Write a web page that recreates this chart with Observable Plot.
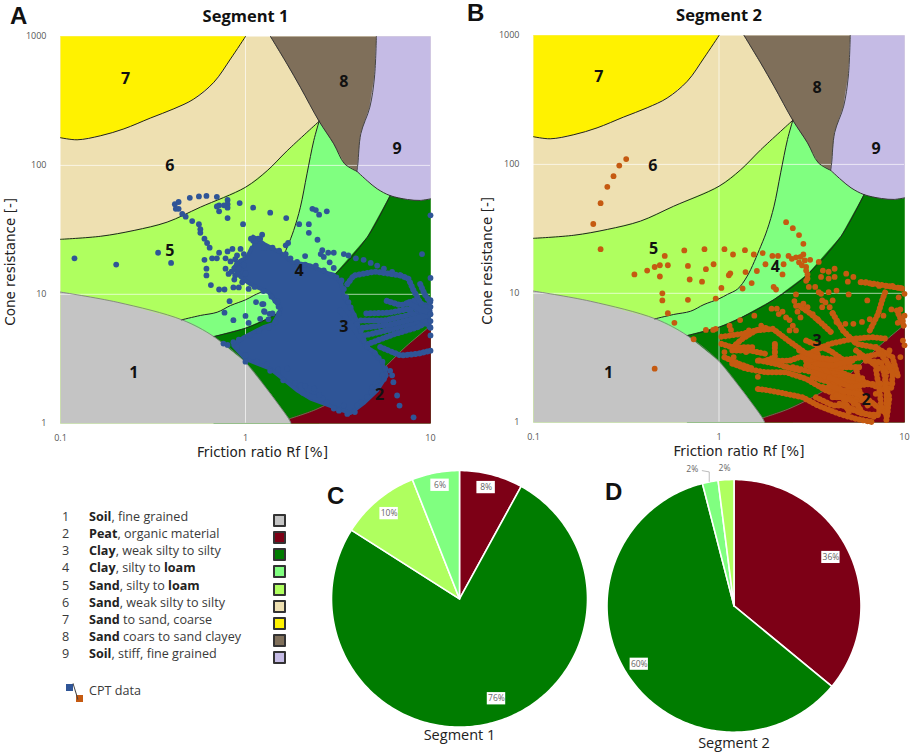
<!DOCTYPE html>
<html><head><meta charset="utf-8">
<script src="https://cdn.jsdelivr.net/npm/d3@7"></script>
<script src="https://cdn.jsdelivr.net/npm/@observablehq/plot@0.6"></script>
<style>
html,body{margin:0;padding:0;background:#fff}
#page{position:relative;width:913px;height:753px;overflow:hidden;font-family:"Open Sans",sans-serif}
.letter{position:absolute;font:bold 24px "Liberation Sans",sans-serif;color:#111;line-height:24px}
.row{position:absolute;font-size:12.6px;color:#3a3a3a;line-height:16px;white-space:nowrap}
.row b{color:#222}
.sw{position:absolute;width:9px;height:9px;border:2px solid #333;border-radius:1px}
</style></head><body><div id="page"></div>
<script>
// ---- zone boundaries, read as [Rf %, cone resistance] ----
const edgeYellow=[[.1,164],[.123,158],[.165,170],[.22,192],[.306,233],[.41,275],[.525,327],[.675,442],[.83,670],[1,1000]];
const edgeBeige=[[.1,26.7],[.165,28.2],[.25,31.3],[.377,36.3],[.57,47.4],[1,67.7],[1.31,91],[1.68,130],[2.5,220]];
const edgeBrownLeft=[[1.365,1000],[1.68,610],[1.98,404],[2.5,220],[3,147],[3.43,103],[4,90]];
const edgeBrownRight=[[5.1,1000],[4.98,485],[4.7,283],[4.2,176],[4.05,103],[4,90]];
const edgeLilac=[[4,90],[4.55,76],[5.15,65.8],[6.05,58.3],[7.5,54.4],[8.8,53.5],[10,55]];
const edgeLime=[[2.5,220],[2.34,156],[2.15,86],[1.98,47.4],[1.82,31.2],[1.68,23.2],[1.42,13.6],[1.26,10.8],[1.11,9.8],[1,9.06],[.83,8.18],[.703,7.26],[.57,6.85],[.45,6.33]];
const edgeLight=[[.674,4.7],[1,5.46],[1.31,6.45],[1.98,8.95],[3,14],[4.55,27.7],[6.05,58.3]];
const edgeGrey=[[.1,10.4],[.2025,8.68],[.4546,6.33],[.674,4.7],[1,2.97],[1.365,1.69],[1.715,1.08],[1.76,1]];
const edgePeat=[[1.72,1.08],[2.38,1.27],[3.4,1.64],[5.15,2.41],[7.3,3.89],[10,5.7]];

const zoneColors={1:"#c4c4c4",2:"#7d0016",3:"#007c00",4:"#80ff80",5:"#afff5f",6:"#eee0b1",7:"#fff200",8:"#7f6f5a",9:"#c5bbe5"};
const labelsA=[[1,.249,2.46],[2,5.3,1.66],[3,3.4,5.55],[4,1.95,15.3],[5,.39,21.9],[6,.39,100],[7,.225,469],[8,3.4,442],[9,6.6,134]];
const labelsB=[[1,.254,2.4],[2,6.2,1.5],[3,3.38,4.3],[4,2.01,16],[5,.444,22],[6,.44,98],[7,.225,481],[8,3.38,393],[9,7.03,132]];

// ---- Segment 1 CPT readings ----
const seg1Dots=[[.119,19],[.2,17],[.337,21],[.396,17.5],[.415,50],[.435,52],[.42,46],[.435,46],[.455,42],[.475,40],[.515,37],[.56,35],[.57,32],[.57,30],[.6,27],[.62,25],[.64,23],[.5,56],[.56,57.5],[.615,58],[.7,57],[.8,54],[.8,50],[.8,47],[.765,49],[.72,49],[.7,48],[.72,44],[.8,39],[.93,51],[1.1,47],[1.36,43],[1.66,39],[.97,35],[1.23,29],[1.1,26],[1.17,27],[1.95,35],[2.2,35],[2.2,30],[2.45,26.5],[2.3,46],[2.4,45],[2.5,41.5],[2.75,44],[1.65,24],[1.7,25],[2.6,22],[2.55,20.5],[2.65,19.5],[3,21],[3.4,20.5],[2.8,21],[2.85,17.7],[3,16],[2.1,19.8],
[3.6,20],[3.95,19],[4.35,18.5],[4.75,17.5],[5.15,16.7],[5.6,15.8],[6.2,14.9],[9,20.5],[10,13.4],[10,41],[10,9],[10,8],[10,7],[10,6.2],[10,5.5],[10,4.8],[10,3.65],
[5.5,2.35],[6.05,2.55],[6.2,2.35],[6.3,2.08],[6.6,1.64],[6.8,1.37],[8.1,1.11],[4.85,1.9],[5.05,2],[3,1.3],[3.2,1.25],[3.55,1.18],[3.9,1.22],[3.4,1.37],
[.82,8.85],[.77,7.2],[.86,6.3],[1,6.8],[1.04,6],[1.14,8.7],[1.23,8.4],[1.26,7.4],[1.2,6.45],[1.35,7.05],[1.51,8],[1.45,8.9],[1.27,7.3],[1.33,6.4],[1.4,7.1],[1.25,8.4],
[1,3],[1.36,2.55],[1.6,2.15],[.8,4.05],[.76,4.15],
[.85,22.5],[.94,22.5],[.98,20.5],[.78,15.8],[.81,14.4],[.88,14],[.96,12.4],[1.04,11],[.6,18.5],[.66,19],[.72,21],[.7,19],[.78,19],[.615,15.8],[.615,14],[.65,11.8],[.72,10.9],[.77,10.9],[.86,11.3],[.92,11.3],[.83,18],[.88,18.7],[.9,17.2],[.98,16.8],[.8,21.5],[.9,20],[.84,15],[.87,13],[.92,15.8],[1,14.5],
[1.13,26],[1.2,27],[1.07,27],[1.26,23],[1.4,23],[1.52,21.8],[1.65,20.5],[1.75,19],[1.9,17.8],[2.1,17],[2.4,16.7],[2.65,15.3],[2.9,14],[3.1,13.5],[3.3,12.8],[3.4,11],[3.5,9.5],[3.6,8.7],[3.7,7.9],[3.85,6.9],[4,5.9],[4.2,5.2],[4.35,4.4],[4.55,3.9],[5,3.5],[5.25,3.2],[5.5,3],[5.7,2.65],[5.6,2.2],[5.15,1.9],[4.8,1.75],[4.55,1.6],[4.2,1.45],[4,1.37],[2.75,1.45],[2.5,1.65],[2.35,1.85],[2.1,1.95],[1.85,2.05],[1.68,2.65],[1.5,2.6],[1.3,2.85],[1.15,3],[1,3.35],[.9,3.9],[.86,4.25],[.92,4.45],[1.06,4.8],[1.18,5.2],[1.34,5.55],[1.45,6.1],[1.52,7.1],[1.5,8.8],[1.38,9.6],[1.25,10.6],[1.12,11.4]];
const seg1Core=[[1.1,28],[1.26,24.6],[1.55,21],[1.8,17.7],[2.25,16.7],[2.82,14.5],[3,14.2],[3.3,12],[3.4,9.5],[3.7,7.9],[4,6.25],[4.2,4.95],[4.4,4],[5,3.55],[5.5,2.9],[5.8,2.35],[5.15,1.8],[4.4,1.45],[3.7,1.2],[3,1.33],[2.25,1.55],[1.9,1.8],[1.6,2.2],[1.36,2.65],[1,3.15],[.86,4],[.98,4.65],[1.25,5.55],[1.42,5.9],[1.55,7.7],[1.33,10.4],[1.06,12],[.94,13.6],[.86,16],[.94,18.3],[1.02,19.4],[1.08,23]];
const seg1Traces=[
 [[4.2,6.25],[5.6,6.25],[7.5,6.85],[10,7.5]],
 [[4.4,4.8],[5.8,5.25],[8.1,5.9],[10,6.65]],
 [[4.55,4.1],[6.35,4.9],[8.5,5.55],[10,6.25]],
 [[5.35,3.9],[6.9,3.35],[8.5,3.45],[10,3.65]],
 [[5.8,8.9],[6.9,8.2],[8.1,8.9],[10,7.95]],
 [[6.9,14],[7.6,13.2],[8.1,10.7],[8.9,8.4],[10,7.5]],
 [[3.55,12],[3.85,14],[5,15],[6.9,14]],
 [[3.25,7.5],[3.7,5.9],[4.3,4.35]],
 [[2,1.96],[2,1.75],[2.25,1.6],[2.65,1.55]],
 [[9,7.2],[9.5,6],[10,5.5]],
 [[7.8,7.2],[9,6.4],[10,5.9]],
 [[4.5,7.1],[6,7.2],[8,7.8],[10,7.9]],
 [[4.3,5.5],[6,5.8],[8,6.4],[10,7]],
 [[7.6,8.6],[8.8,7.6],[10,7.2]],
 [[8.8,12],[9.3,10],[10,8.6]]];

// ---- Segment 2 CPT readings ----
const seg2Dots=[[.316,110],[.29,98],[.27,81],[.25,67],[.23,50],[.21,34.5],[.23,22],[.45,2.6],
[.51,19.5],[.53,16.5],[.48,16.5],[.45,16],[.41,15],[.35,14],[.48,13.5],[.495,10],[.495,8.8],[.53,7],[.575,5.9],[.65,21.5],[.68,16.3],[.695,12.8],[.68,8.9],[.81,12.3],[.85,15.4],[.835,22],[.935,16.8],[1.07,22],[1.19,20],[1.38,21.6],[1.54,20],[1.72,20.5],[1.94,19.5],[2.08,19.5],[1.39,14.6],[1.6,14.9],[1.78,16.8],[2.23,16.8],[2.2,14],[1.13,13.8],[1.15,14.3],[1.03,11],[.96,9.1],[1.34,10.9],[1.5,12],[1.97,11.2],[2.03,10.7],
[2.3,35.6],[2.5,32],[2.7,28.3],[2.85,24.2],[2.85,20],[2.75,19.2],[2.6,19],[2.37,19.5],[2.47,18.5],[2.7,17.4],[2.95,16],[3.1,18.2],[3.45,17.5],[2.9,18],[2.8,16.5],[2.95,15],[3,14],
[3,13],[3.63,15],[3.9,14.7],[4.2,15.5],[3.55,13.4],[3.9,13],[4.2,13.4],[4.85,14.2],[4.95,12.3],[5.3,13.4],[5.8,12.2],[6.2,12.2],[6.7,11.8],[7.3,11.4],[8,11.4],[8.6,11.4],[9.5,11],[10,9.9],[9.3,9.3],[6.3,8.8],[5,9.8],[4.3,10.5],[3.9,10.2],[3.55,9.9],[3.05,11.2],[3.3,11.2],[3.45,10.2],[2.95,12.5],[2.6,9.8],[2.55,8.7],[2.6,8],[2.65,7.2],[2.75,6.5],[2.85,8.3],[3,7.8],[3.2,6.9],[3.4,6.3],[3.6,8.8],[3.75,8.5],[4.1,8.8],[3.6,7.8],[3.95,7.8],[4.1,7],[4.3,6],[4.8,5.8],[5.3,5.8],[5.9,6],[6.5,6.3],[7.7,6.7],[8.5,7.5],[9.5,7.5],[10,6.7],[9.8,6.1],[9.2,5.9],
[1.92,7.6],[2.05,7.6],[2.2,7.2],[2.3,6.5],[2.4,6.2],[2.1,6.9],[1.55,6.7],[1.3,6.2],[1.14,5.6],[1.16,5.2],[.85,5.2],[.93,5.2],[.96,5.3],[.73,4.4],[1.07,3.5],[1.2,3.2],[1.4,3.5],[1.62,2.25],[1.62,3],[2,3.5],[2,3.95],[1.45,5.15],[1.69,5.6],[2.4,5.15],[2.6,5.15],[2.5,5.6],[9.5,3.2],[9.2,2.3],[8.7,2.75],[8.6,2],[10,3.95],[9.8,4.3],[8.3,3.6],[7.4,2],[7,1.66]];
const seg2Traces=[
 [[1.62,1.81],[1.87,1.76],[2.3,1.66],[2.83,1.56],[3.4,1.35],[4.45,1.16],[5.5,1.06],[6.75,1]],
 [[1.18,2.85],[1.4,2.6],[1.79,2.44],[2.3,2.44],[2.95,2.17],[3.78,1.76],[4.85,1.56],[5.95,1.47]],
 [[1.03,4.05],[1.18,3.8],[1.34,4.45],[1.58,5.15],[1.95,5.3],[2.3,4.42],[2.8,3.6],[3.6,2.75],[4.6,2.23],[6.2,1.98]],
 [[1.79,3],[2.4,3],[3.05,3.4],[3.95,4.05],[5.2,4.42],[6.7,4.57],[8.2,4.42]],
 [[2.95,3],[3.95,2.67],[5.5,2.17],[8,1.76],[8.1,1.16]],
 [[6.5,5.15],[7.2,6.9],[7.65,9.2],[8,10.8]],
 [[5.85,12.2],[7,11.8],[8.1,11.4],[10,10.8]],
 [[9.1,7.35],[9.6,6.15],[10,5.45]],
 [[4.1,7],[4.65,5.15],[5.5,4.05],[7,3.8],[8.6,3.2],[9.2,2.3]],
 [[2.7,8],[3.1,7],[3.6,5.8],[4.1,4.85]],
 [[6.2,3],[7.5,2.92],[8,1.98],[8,1.09]],
 [[2.83,3.19],[3.63,2.92],[4.65,2.67],[5.96,2.67]],
 [[2.95,2.75],[3.78,2.44],[4.85,2.3],[6.2,2.17]],
 [[3.2,2.23],[3.95,2.04],[5.05,2.17],[5.96,1.98]],
 [[3.63,1.87],[4.45,1.76],[5.7,1.76],[5.96,1.56]],
 [[4.1,1.56],[5.05,1.56],[5.48,1.31]],
 [[4.45,1.39],[5.48,1.23],[7.03,1.09]],
 [[4.28,2.23],[4.65,1.56],[5.05,1.16]],
 [[5.48,2.67],[5.7,1.98],[5.48,1.47]],
 [[3.33,3.6],[3.63,2.75],[4.28,1.87]],
 [[1.03,4.6],[1.34,4.85],[1.8,5.4]],
 [[2.95,4.3],[3.95,3.6],[5.05,2.83]],
 [[2,4.05],[2,3.2],[1.79,3]],
 [[4.85,1.98],[6.47,1.47],[7.98,1.16]],
 [[7.03,3.82],[8.15,2.83],[7.8,1.98],[8.3,1.56],[7.98,1.03]],
 [[1.23,3.8],[1.52,3.82]],
 [[2.71,3.6],[3.33,3.19],[4.45,3.01],[5.96,3.19],[7.33,3.39]],
 [[3.33,2.83],[4.1,2.75],[5.26,3.01]],
 [[2.5,2.67],[3.2,2.44],[4.1,2.17],[5.48,1.98],[7.03,1.98]],
 [[3.95,2.23],[5.05,1.87],[6.47,1.98]],
 [[3.95,1.92],[4.85,1.71],[5.7,1.66],[6.33,1.35]],
 [[4.28,1.61],[5.48,1.43],[5.96,1.16]],
 [[4.85,1.31],[5.96,1.16],[7.5,1.13]],
 [[3.33,1.56],[4.1,1.35],[5.05,1.35]],
 [[7.03,2.52],[7.33,1.76],[7.5,1.31],[7.03,1.09]],
 [[7.98,3.01],[8.65,2.37],[8.45,1.76]],
 [[5.48,3.6],[6.47,3.01],[7.5,2.52]],
 [[1.18,3.6],[1.46,3.6],[1.79,3.39]],
 [[1.07,3.19],[1.29,2.83],[1.52,2.6]],
 [[1.65,3.01],[2.03,2.83],[2.71,2.52]]];

// ---- pies ----
const pieKeys1=[2,3,5,4], pieShares1=[8,76,10,6];
const pieKeys2=[2,3,4,5], pieShares2=[36,60,2,2];
const pieLabels1=[["8%",.208,.867],["76%",.289,-.779],["10%",-.55,.664],["6%",-.152,.885]];
const pieLabels2=[["36%",.763,.383],["60%",-.746,-.462]];
const pieOutside2=[["2%",-.329,1.082],["2%",-.075,1.09]];
const pieLeader2=[[-.25,1.07],[-.195,1.06],[-.195,.985]];

// ---- legend ----
const legendRows=[["1","Soil",", fine grained",""],["2","Peat",", organic material",""],["3","Clay",", weak silty to silty",""],["4","Clay",", silty to ","loam"],["5","Sand",", silty to ","loam"],["6","Sand",", weak silty to silty",""],["7","Sand"," to sand, coarse",""],["8","Sand"," coars to sand clayey",""],["9","Soil",", stiff, fine grained",""]];

const page=document.getElementById("page");
const font='"Open Sans",sans-serif', labelFont='"DejaVu Sans",sans-serif';
const X=d=>d[0],Y=d=>d[1];

function zone(pts,fill){return Plot.line(pts,{x:X,y:Y,fill,stroke:fill,strokeWidth:.5,curve:"linear"});}
function edge(pts,stroke="#222",w=1){return Plot.line(pts,{x:X,y:Y,stroke,strokeWidth:w,curve:"catmull-rom"});}
const rev=a=>a.slice().reverse();

function panel({left,top,w,h,ml,mr,mt,mb,title,labels,dots,traces,cores,color,xLabelDx,yLabelDy,yLabelDx}){
  const zones=[
    Plot.frame({fill:zoneColors[6],stroke:null}),
    zone([...edgeYellow,[.1,1000]],zoneColors[7]),
    zone([...edgeBeige,[2.5,1],[.1,1]],zoneColors[5]),
    zone([...edgeLime,...edgeLight,...rev(edgeLilac).slice(3),...rev(edgeBrownLeft).slice(1,4)],zoneColors[4]),
    zone([...edgeLight,...edgeLilac.slice(4),[10,1],[.674,1]],zoneColors[3]),
    zone([...edgePeat,[10,1],[1.76,1]],zoneColors[2]),
    zone([...edgeGrey,[.1,1]],zoneColors[1]),
    zone([...edgeBrownLeft,...rev(edgeBrownRight).slice(1)],zoneColors[8]),
    zone([[5.1,1000],[10,1000],...rev(edgeLilac),...rev(edgeBrownRight).slice(1,-1)],zoneColors[9]),
    Plot.ruleX([1],{stroke:"#fff",strokeOpacity:.65,strokeWidth:1}),
    Plot.ruleY([10,100],{stroke:"#fff",strokeOpacity:.65,strokeWidth:1}),
    edge(edgeYellow),edge(edgeBeige),edge(edgeBrownLeft,"#333"),edge(edgeBrownRight,"#444"),edge(edgeLilac,"#333"),
    edge(edgeLime,"#222"),edge(edgeLight,"#222"),edge(edgeGrey,"#777",.8),edge(edgePeat,"#6a8a60",.8)
  ];
  const data=[
    ...cores.map(c=>Plot.line(c,{x:X,y:Y,fill:color,stroke:color,strokeWidth:4,curve:"linear",strokeLinejoin:"round"})),
    ...traces.map(t=>Plot.line(t,{x:X,y:Y,stroke:color,strokeWidth:6,curve:"linear",strokeDasharray:"0.1 4",strokeLinecap:"round"})),
    Plot.dot(dots,{x:X,y:Y,r:2.9,fill:color})
  ];
  const svg=Plot.plot({width:w,height:h,marginLeft:ml,marginRight:mr,marginTop:mt,marginBottom:mb,
    x:{type:"log",domain:[.1,10]},y:{type:"log",domain:[1,1000]},
    style:{position:"absolute",left:left+"px",top:top+"px",background:"transparent",overflow:"visible",fontFamily:font},
    marks:[...zones,...data,
      Plot.text(labels,{x:d=>d[1],y:d=>d[2],text:d=>String(d[0]),fontSize:16,fontWeight:700,fill:"#111"}),
      Plot.axisX({ticks:[.1,1,10],tickFormat:d=>String(d),tickSize:0,tickPadding:11,fontSize:9,fill:"#555",label:null}),
      Plot.axisY({ticks:[1,10,100,1000],tickFormat:d=>String(d),tickSize:0,tickPadding:14,fontSize:9,fill:"#555",label:null}),
      Plot.text([title],{frameAnchor:"top",lineAnchor:"middle",dy:-20,fontSize:16.5,fontWeight:700,fill:"#111"}),
      Plot.text(["Friction ratio Rf [%]"],{frameAnchor:"bottom",lineAnchor:"middle",dx:xLabelDx,dy:29,fontSize:13.5,fontFamily:labelFont,fill:"#222"}),
      Plot.text(["Cone resistance [-]"],{frameAnchor:"left",lineAnchor:"middle",textAnchor:"middle",rotate:-90,dx:yLabelDx,dy:yLabelDy,fontSize:13.5,fontFamily:labelFont,fill:"#222"})
    ]});
  page.appendChild(svg);
}
panel({left:0,top:0,w:456,h:460,ml:60,mr:26,mt:36,mb:37.3,title:"Segment 1",labels:labelsA,dots:seg1Dots,traces:seg1Traces,cores:[seg1Core],color:"#2f5597",xLabelDx:17,yLabelDy:32,yLabelDx:-50});
panel({left:456,top:0,w:457,h:460,ml:77,mr:9,mt:35,mb:38.3,title:"Segment 2",labels:labelsB,dots:seg2Dots,traces:seg2Traces,cores:[],color:"#c55a11",xLabelDx:20,yLabelDy:32,yLabelDx:-46});

function pie({left,top,w,h,ml,mr,mt,mb,keys,shares,labels,caption,capY,extra=[]}){
  const arcs=d3.pie().sort(null).startAngle(0).endAngle(2*Math.PI)(shares);
  const wedges=arcs.map((a,i)=>{
    const n=Math.max(2,Math.ceil((a.endAngle-a.startAngle)/.02));
    const pts=[[0,0]];
    for(let k=0;k<=n;k++){const t=a.startAngle+(a.endAngle-a.startAngle)*k/n;pts.push([Math.sin(t),Math.cos(t)]);}
    pts.push([0,0]);
    return Plot.line(pts,{x:X,y:Y,fill:zoneColors[keys[i]],stroke:"#fff",strokeWidth:1.6,curve:"linear",strokeLinejoin:"round"});
  });
  const hw=.072,hh=.048;
  const svg=Plot.plot({width:w,height:h,marginLeft:ml,marginRight:mr,marginTop:mt,marginBottom:mb,
    x:{domain:[-1,1],axis:null},y:{domain:[-1,1],axis:null},
    style:{position:"absolute",left:left+"px",top:top+"px",background:"transparent",overflow:"visible",fontFamily:font},
    marks:[...wedges,
      Plot.rect(labels,{x1:d=>d[1]-hw,x2:d=>d[1]+hw,y1:d=>d[2]-hh,y2:d=>d[2]+hh,fill:"#fff"}),
      Plot.text(labels,{x:d=>d[1],y:d=>d[2],text:d=>d[0],fontSize:8.5,fill:"#666"}),
      ...extra,
      Plot.text([caption],{x:0,y:capY,text:d=>d,fontSize:14.5,fill:"#222"})
    ]});
  page.appendChild(svg);
}
pie({left:320,top:460,w:280,h:293,ml:11,mr:13,mt:10,mb:26.4,keys:pieKeys1,shares:pieShares1,labels:pieLabels1,caption:"Segment 1",capY:-1.068});
pie({left:590,top:450,w:290,h:303,ml:16.5,mr:19.5,mt:29,mb:21.3,keys:pieKeys2,shares:pieShares2,labels:pieLabels2,caption:"Segment 2",capY:-1.09,
  extra:[Plot.text(pieOutside2,{x:d=>d[1],y:d=>d[2],text:d=>d[0],fontSize:8.5,fill:"#666"}),
         Plot.line(pieLeader2,{x:X,y:Y,stroke:"#aaa",strokeWidth:.8})]});

for(const [t,x,y] of [["A",10,4],["B",467,1],["C",327,484],["D",605,480]]){
  const d=document.createElement("div");d.className="letter";d.textContent=t;d.style.left=x+"px";d.style.top=y+"px";page.appendChild(d);
}
legendRows.forEach((r,i)=>{
  const y=509+i*17.15;
  const n=document.createElement("div");n.className="row";n.style.left="62px";n.style.top=y+"px";n.textContent=r[0];page.appendChild(n);
  const t=document.createElement("div");t.className="row";t.style.left="89px";t.style.top=y+"px";
  t.append(Object.assign(document.createElement("b"),{textContent:r[1]}),r[2]);
  if(r[3])t.append(Object.assign(document.createElement("b"),{textContent:r[3]}));
  page.appendChild(t);
  const s=document.createElement("div");s.className="sw";s.style.left="273px";s.style.top=(y+5)+"px";s.style.background=zoneColors[i+1];page.appendChild(s);
});
const cpt=document.createElement("div");cpt.className="row";cpt.style.left="89px";cpt.style.top="683px";cpt.textContent="CPT data";page.appendChild(cpt);
page.insertAdjacentHTML("beforeend",'<div style="position:absolute;left:66px;top:684px;width:7px;height:7px;background:#2f5597"></div><div style="position:absolute;left:76px;top:695px;width:7px;height:7px;background:#c55a11"></div><div style="position:absolute;left:74.5px;top:683px;width:1.2px;height:17px;background:#444;transform:rotate(-17deg)"></div>');
</script></body></html>
